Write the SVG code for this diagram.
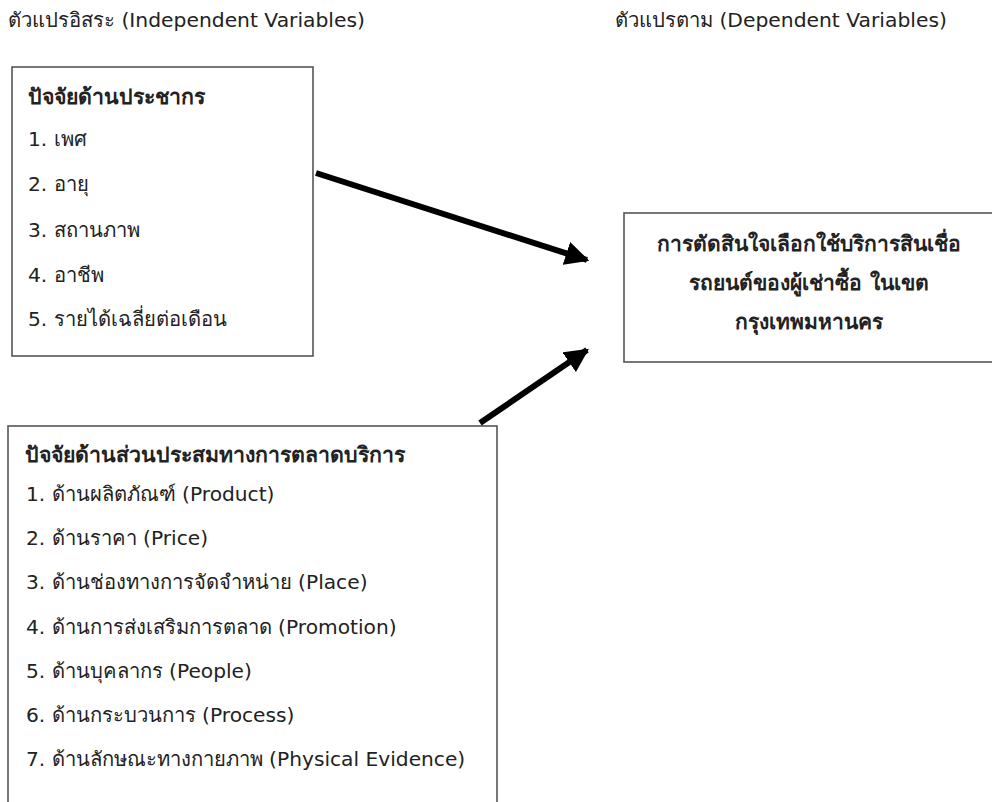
<svg xmlns="http://www.w3.org/2000/svg" width="992" height="802" viewBox="0 0 992 802">
  <style>
    text { font-family: "DejaVu Sans", "Noto Sans", sans-serif; fill: #222; }
    .hdr { font-size: 20.3px; }
    .item { font-size: 20.2px; }
    .title { font-size: 21.3px; font-weight: bold; }
    .box { fill: #fff; stroke: #555; stroke-width: 1.6; }
    .conn { stroke: #000; stroke-width: 6; fill: none; }
  </style>
  <defs>
    <marker id="arrow" viewBox="0 0 10 10" refX="9" refY="5" markerWidth="4" markerHeight="4" orient="auto" markerUnits="strokeWidth">
      <path d="M0,0 L10,5 L0,10 Z" fill="#000"/>
    </marker>
  </defs>
  <rect width="992" height="802" fill="#fff"/>

  <text class="hdr" x="8" y="27">ตัวแปรอิสระ (Independent Variables)</text>
  <text class="hdr" x="615" y="27">ตัวแปรตาม (Dependent Variables)</text>

  <g id="demographic">
    <rect class="box" x="12" y="67" width="301" height="289"/>
    <text class="title" x="28" y="104">ปัจจัยด้านประชากร</text>
    <text class="item" x="28" y="146">1. เพศ</text>
    <text class="item" x="28" y="191">2. อายุ</text>
    <text class="item" x="28" y="237">3. สถานภาพ</text>
    <text class="item" x="28" y="282">4. อาชีพ</text>
    <text class="item" x="28" y="326">5. รายได้เฉลี่ยต่อเดือน</text>
  </g>

  <g id="marketing-mix">
    <rect class="box" x="8" y="426" width="489" height="390"/>
    <text class="title" x="25" y="462">ปัจจัยด้านส่วนประสมทางการตลาดบริการ</text>
    <text class="item" x="26" y="501">1. ด้านผลิตภัณฑ์ (Product)</text>
    <text class="item" x="26" y="545">2. ด้านราคา (Price)</text>
    <text class="item" x="26" y="589">3. ด้านช่องทางการจัดจำหน่าย (Place)</text>
    <text class="item" x="26" y="634">4. ด้านการส่งเสริมการตลาด (Promotion)</text>
    <text class="item" x="26" y="678">5. ด้านบุคลากร (People)</text>
    <text class="item" x="26" y="722">6. ด้านกระบวนการ (Process)</text>
    <text class="item" x="26" y="766">7. ด้านลักษณะทางกายภาพ (Physical Evidence)</text>
  </g>

  <g id="decision">
    <rect class="box" x="624" y="213" width="372" height="149"/>
    <text class="title" x="809" y="251" text-anchor="middle" style="font-size:21px">การตัดสินใจเลือกใช้บริการสินเชื่อ</text>
    <text class="title" x="809" y="290" text-anchor="middle" style="font-size:21px">รถยนต์ของผู้เช่าซื้อ ในเขต</text>
    <text class="title" x="809" y="329" text-anchor="middle" style="font-size:21px">กรุงเทพมหานคร</text>
  </g>

  <g id="connectors">
    <line class="conn" x1="316" y1="173" x2="587" y2="260" marker-end="url(#arrow)"/>
    <line class="conn" x1="480" y1="423" x2="587" y2="350" marker-end="url(#arrow)"/>
  </g>
</svg>
